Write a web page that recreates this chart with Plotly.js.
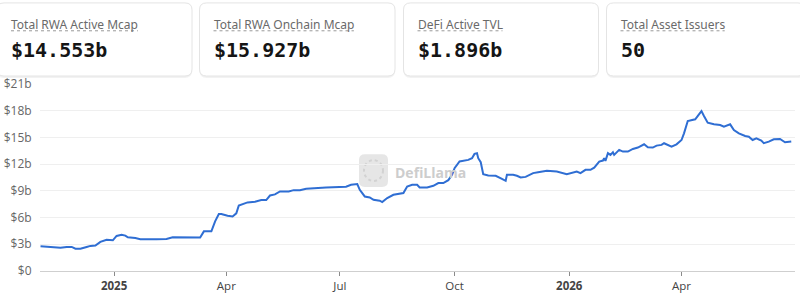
<!DOCTYPE html>
<html>
<head>
<meta charset="utf-8">
<script src="https://cdn.plot.ly/plotly-3.0.1.min.js"></script>
<style>
  html, body { margin: 0; padding: 0; background: #fff; }
  #chart { width: 800px; height: 297px; }
</style>
</head>
<body>
<div id="chart"></div>
<script>
// Total RWA active market cap, USD billions
const dates = [
  '2024-11-03','2024-11-11','2024-11-19','2024-11-24','2024-11-28','2024-12-01','2024-12-05','2024-12-10',
  '2024-12-13','2024-12-17','2024-12-21','2024-12-26','2024-12-29','2024-12-31','2025-01-03','2025-01-07',
  '2025-01-10','2025-01-12','2025-01-18','2025-01-22','2025-02-04','2025-02-12','2025-02-17','2025-02-23',
  '2025-03-03','2025-03-11','2025-03-14','2025-03-20','2025-03-23','2025-03-26','2025-03-28','2025-04-02',
  '2025-04-06','2025-04-09','2025-04-11','2025-04-14','2025-04-18','2025-04-24','2025-04-29','2025-05-03',
  '2025-05-06','2025-05-10','2025-05-14','2025-05-21','2025-05-25','2025-05-30','2025-06-04','2025-06-20',
  '2025-07-06','2025-07-10','2025-07-15','2025-07-17','2025-07-21','2025-07-25','2025-07-28','2025-08-02',
  '2025-08-04','2025-08-08','2025-08-13','2025-08-21','2025-08-24','2025-08-28','2025-09-01','2025-09-03',
  '2025-09-09','2025-09-14','2025-09-18','2025-09-22','2025-09-26','2025-09-29','2025-10-01','2025-10-05',
  '2025-10-12','2025-10-15','2025-10-17','2025-10-19','2025-10-20','2025-10-22','2025-10-24','2025-10-28',
  '2025-11-03','2025-11-08','2025-11-11','2025-11-12','2025-11-17','2025-11-20','2025-11-23','2025-11-27',
  '2025-12-03','2025-12-07','2025-12-14','2025-12-22','2025-12-26','2025-12-30','2026-01-07','2026-01-10',
  '2026-01-14','2026-01-18','2026-01-21','2026-01-25','2026-01-28','2026-01-29','2026-01-30','2026-02-01',
  '2026-02-03','2026-02-05','2026-02-06','2026-02-10','2026-02-13','2026-02-17','2026-02-21','2026-02-25',
  '2026-03-02','2026-03-05','2026-03-09','2026-03-12','2026-03-16','2026-03-18','2026-03-24','2026-03-28',
  '2026-04-01','2026-04-03','2026-04-06','2026-04-10','2026-04-12','2026-04-15','2026-04-17','2026-04-19',
  '2026-04-22','2026-04-27','2026-05-02','2026-05-05','2026-05-08','2026-05-10','2026-05-13','2026-05-17',
  '2026-05-22','2026-05-25','2026-05-28','2026-05-31','2026-06-04','2026-06-06','2026-06-10','2026-06-14',
  '2026-06-19','2026-06-23','2026-06-28'
];
const activeMcap = [
  2.78, 2.67, 2.60, 2.70, 2.70, 2.50, 2.50, 2.70,
  2.82, 2.85, 3.27, 3.50, 3.50, 3.45, 3.94, 4.08,
  3.97, 3.78, 3.70, 3.56, 3.56, 3.60, 3.78, 3.78,
  3.75, 3.75, 4.45, 4.45, 5.57, 6.40, 6.40, 6.20,
  6.13, 6.47, 7.36, 7.47, 7.70, 7.78, 7.97, 7.97,
  8.48, 8.60, 8.93, 8.93, 9.08, 9.08, 9.23, 9.38,
  9.46, 9.68, 9.76, 9.12, 8.37, 8.26, 8.00, 7.89,
  7.74, 8.19, 8.56, 8.75, 9.49, 9.68, 9.68, 9.38,
  9.38, 9.57, 9.87, 9.87, 10.20, 10.80, 11.55, 12.30,
  12.48, 12.67, 13.15, 13.23, 12.67, 12.22, 10.88, 10.72,
  10.69, 10.35, 10.13, 10.80, 10.80, 10.69, 10.50, 10.57,
  10.99, 11.10, 11.25, 11.17, 11.06, 10.88, 11.17, 10.99,
  11.36, 11.36, 11.61, 12.29, 12.40, 12.67, 12.37, 13.23,
  13.04, 13.34, 13.04, 13.60, 13.41, 13.41, 13.71, 13.86,
  14.23, 13.90, 13.86, 14.08, 14.16, 14.35, 13.97, 14.23,
  14.71, 15.46, 16.84, 16.95, 17.03, 17.59, 17.96, 17.40,
  16.65, 16.47, 16.39, 16.20, 16.32, 16.47, 15.83, 15.46,
  15.16, 15.08, 14.71, 14.90, 14.64, 14.35, 14.53, 14.79,
  14.83, 14.46, 14.553
];

// Summary cards
const cardLabels = ['Total RWA Active Mcap', 'Total RWA Onchain Mcap', 'DeFi Active TVL', 'Total Asset Issuers'];
const cardValues = ['$14.553b', '$15.927b', '$1.896b', '50'];

// Axis ticks
const yTickVals = [0, 3, 6, 9, 12, 15, 18, 21];
const yTickText = ['$0', '$3b', '$6b', '$9b', '$12b', '$15b', '$18b', '$21b'];
const xTickVals = ['2025-01-01', '2025-04-01', '2025-07-01', '2025-10-01', '2026-01-01', '2026-04-01'];
const xTickText = ['<b>2025</b>', 'Apr', 'Jul', 'Oct', '<b>2026</b>', 'Apr'];

// Page geometry (pixels) and helpers that turn pixels into paper coordinates
const W = 800, H = 297;
const M = { l: 40, r: 5, t: 83.5, b: 25.5 };
const PW = W - M.l - M.r, PH = H - M.t - M.b;
const px = x => (x - M.l) / PW;
const py = y => (H - M.b - y) / PH;

function roundRectPath(x0, y0, x1, y1, r) {
  const p = (x, y) => px(x) + ',' + py(y);
  return 'M' + p(x0 + r, y0) + ' L' + p(x1 - r, y0) +
    ' Q' + p(x1, y0) + ' ' + p(x1, y0 + r) +
    ' L' + p(x1, y1 - r) +
    ' Q' + p(x1, y1) + ' ' + p(x1 - r, y1) +
    ' L' + p(x0 + r, y1) +
    ' Q' + p(x0, y1) + ' ' + p(x0, y1 - r) +
    ' L' + p(x0, y0 + r) +
    ' Q' + p(x0, y0) + ' ' + p(x0 + r, y0) + ' Z';
}

const cardBoxes = [[-3, 192], [199.5, 395], [403.5, 598.5], [606.5, 805]];
const CARD_TOP = 2, CARD_BOTTOM = 75.5;
const LABEL_FONT = { family: 'Noto Sans, sans-serif', size: 12, color: '#6a6a6a' };
const VALUE_FONT = { family: 'DejaVu Sans Mono, monospace', size: 20, color: '#151515', weight: 700 };

const measure = (() => {
  const ctx = document.createElement('canvas').getContext('2d');
  return (text, font) => { ctx.font = font; return ctx.measureText(text).width; };
})();

const shapes = [];
const annotations = [];

cardBoxes.forEach(([x0, x1], i) => {
  // soft shadow under the card
  shapes.push({
    type: 'path', xref: 'paper', yref: 'paper', layer: 'above',
    path: roundRectPath(x0, CARD_TOP + 1.5, x1, CARD_BOTTOM + 2, 7),
    fillcolor: 'rgba(0,0,0,0.05)', line: { width: 0 }
  });
  shapes.push({
    type: 'path', xref: 'paper', yref: 'paper', layer: 'above',
    path: roundRectPath(x0, CARD_TOP, x1, CARD_BOTTOM, 7),
    fillcolor: '#ffffff', line: { color: '#e4e4e4', width: 1 }
  });
  const tx = x0 + 14;
  annotations.push({
    xref: 'paper', yref: 'paper', x: px(tx - 2), y: py(23.5),
    xanchor: 'left', yanchor: 'middle', showarrow: false,
    text: cardLabels[i], font: LABEL_FONT
  });
  const lw = measure(cardLabels[i], '12px "Noto Sans"');
  shapes.push({
    type: 'line', xref: 'paper', yref: 'paper', layer: 'above',
    x0: px(tx), x1: px(tx + lw), y0: py(30), y1: py(30),
    line: { color: '#9a9a9a', width: 1, dash: 'dot' }
  });
  annotations.push({
    xref: 'paper', yref: 'paper', x: px(tx - 2), y: py(49.5),
    xanchor: 'left', yanchor: 'middle', showarrow: false,
    text: cardValues[i], font: VALUE_FONT
  });
});

// Watermark
shapes.push({
  type: 'path', xref: 'paper', yref: 'paper', layer: 'below',
  path: roundRectPath(359, 154, 388, 187, 6),
  fillcolor: '#e6e6e6', line: { width: 0 }
});
shapes.push({
  type: 'circle', xref: 'paper', yref: 'paper', layer: 'below',
  x0: px(364), x1: px(383), y0: py(160), y1: py(181),
  fillcolor: 'rgba(0,0,0,0)', line: { color: '#d2d2d2', width: 2, dash: 'dot' }
});
annotations.push({
  xref: 'paper', yref: 'paper', x: px(393), y: py(172), xanchor: 'left', yanchor: 'middle',
  showarrow: false, text: 'DefiLlama',
  font: { family: 'Open Sans, sans-serif', size: 14, color: '#cdcdcd', weight: 700 }
});

const trace = {
  type: 'scatter', mode: 'lines',
  x: dates, y: activeMcap,
  line: { color: '#2f6ed3', width: 2 },
  hoverinfo: 'skip'
};

const layout = {
  width: W, height: H,
  margin: M,
  paper_bgcolor: '#ffffff', plot_bgcolor: '#ffffff',
  showlegend: false,
  font: { family: 'Open Sans, sans-serif', size: 11, color: '#555' },
  xaxis: {
    type: 'date',
    range: ['2024-11-02 14:00', '2026-07-01'],
    tickvals: xTickVals, ticktext: xTickText,
    ticks: 'outside', ticklen: 4, tickcolor: '#8a8a8a', tickwidth: 1,
    showline: true, linecolor: '#cfcfcf', linewidth: 1,
    showgrid: false, zeroline: false,
    tickfont: { family: 'Open Sans, sans-serif', size: 11.5, color: '#444' }
  },
  yaxis: {
    range: [0, 21],
    tickvals: yTickVals, ticktext: yTickText,
    ticks: 'outside', ticklen: 5, tickcolor: 'rgba(0,0,0,0)',
    showgrid: true, gridcolor: '#efefef', gridwidth: 1,
    zeroline: false, showline: false,
    tickfont: { family: 'Open Sans, sans-serif', size: 12, color: '#666' }
  },
  shapes: shapes,
  annotations: annotations
};

Plotly.newPlot('chart', [trace], layout, { displayModeBar: false, staticPlot: true });
</script>
</body>
</html>
